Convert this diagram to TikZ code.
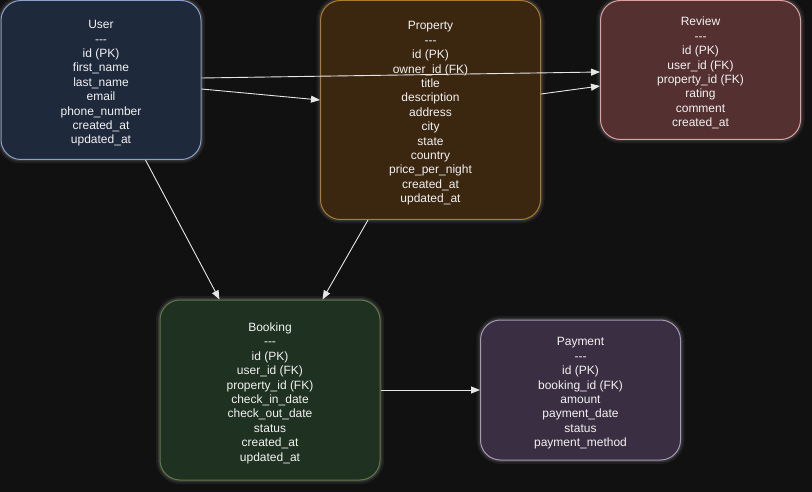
\documentclass[tikz,border=0pt]{standalone}
\usepackage{fontspec}
\setmainfont{Liberation Sans}
\usetikzlibrary{arrows.meta,calc}
\definecolor{bg}{HTML}{111111}
\definecolor{userfill}{HTML}{1E293B}
\definecolor{userdraw}{HTML}{8AA0C8}
\definecolor{propfill}{HTML}{3B2610}
\definecolor{propdraw}{HTML}{B07A28}
\definecolor{revfill}{HTML}{553030}
\definecolor{revdraw}{HTML}{E0A0A0}
\definecolor{bookfill}{HTML}{1F3120}
\definecolor{bookdraw}{HTML}{5E7C48}
\definecolor{payfill}{HTML}{3A2E42}
\definecolor{paydraw}{HTML}{A898B8}
\definecolor{txt}{HTML}{F2F2F2}
\definecolor{edge}{HTML}{E6E6E6}
\newcommand{\sepline}{-{}-{}-}
\newcommand{\hd}[1]{\rule{0pt}{15pt}#1}
\tikzset{
  entity/.style={rectangle, rounded corners=20pt, line width=1pt, align=center,
    text=txt, font=\fontsize{12pt}{14.4pt}\selectfont, inner sep=0pt,
    preaction={draw=white, draw opacity=0.06, line width=8pt},
    preaction={draw=white, draw opacity=0.10, line width=4pt}},
  rel/.style={draw=edge, line width=0.9pt, -{Triangle[length=9pt,width=7pt]}}
}
\begin{document}
\begin{tikzpicture}[x=1pt,y=-1pt]
\fill[bg] (0,0) rectangle (812,492);
\useasboundingbox (0,0) rectangle (812,492);
\node[entity, fill=userfill, draw=userdraw, minimum width=200pt, minimum height=159pt] (user) at (101,80)
  {\hd{User}\\\sepline\\id (PK)\\first\_name\\last\_name\\email\\phone\_number\\created\_at\\updated\_at};
\node[entity, fill=propfill, draw=propdraw, minimum width=220pt, minimum height=219pt] (prop) at (430.5,110)
  {\hd{Property}\\\sepline\\id (PK)\\owner\_id (FK)\\title\\description\\address\\city\\state\\country\\price\_per\_night\\created\_at\\updated\_at};
\node[entity, fill=revfill, draw=revdraw, minimum width=200pt, minimum height=139pt] (review) at (700.5,70)
  {\hd{Review}\\\sepline\\id (PK)\\user\_id (FK)\\property\_id (FK)\\rating\\comment\\created\_at};
\node[entity, fill=bookfill, draw=bookdraw, minimum width=220pt, minimum height=180pt] (booking) at (270,390)
  {\hd{Booking}\\\sepline\\id (PK)\\user\_id (FK)\\property\_id (FK)\\check\_in\_date\\check\_out\_date\\status\\created\_at\\updated\_at};
\node[entity, fill=payfill, draw=paydraw, minimum width=200pt, minimum height=140pt] (payment) at (580.5,390)
  {\hd{Payment}\\\sepline\\id (PK)\\booking\_id (FK)\\amount\\payment\_date\\status\\payment\_method};
\draw[rel] ($(user.north east)+(0,78)$) -- ($(review.north west)+(0,72)$);
\draw[rel] ($(user.north east)+(0,89)$) -- ($(prop.north west)+(0,100)$);
\draw[rel] ($(prop.north east)+(0,94)$) -- ($(review.north west)+(0,86)$);
\draw[rel] ($(user.south west)+(145,0)$) -- ($(booking.north west)+(60,0)$);
\draw[rel] ($(prop.south west)+(48,0)$) -- ($(booking.north west)+(163,0)$);
\draw[rel] (booking.east) -- (payment.west);
\end{tikzpicture}
\end{document}
